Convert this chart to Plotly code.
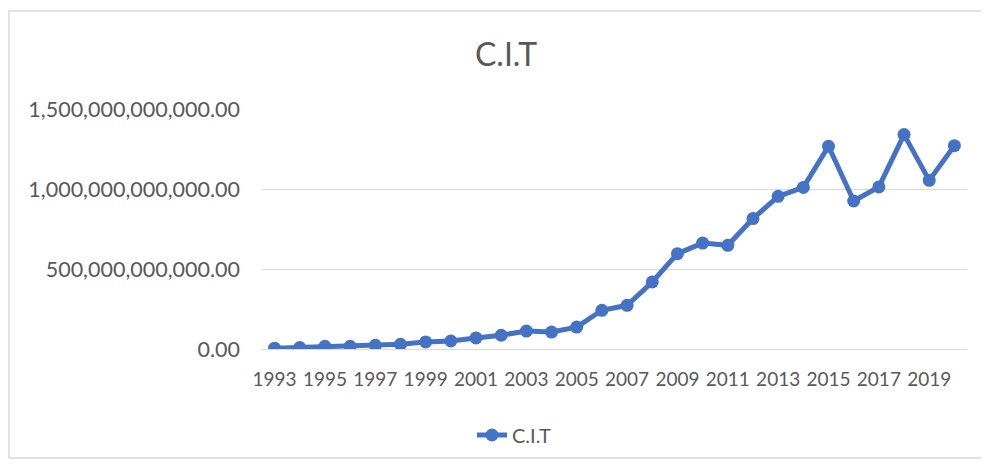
import plotly.graph_objects as go

years = [str(y) for y in range(1993, 2021)]
cit_values = [
    5e9, 9e9, 17e9, 17e9, 23e9, 29e9, 44e9, 50e9, 69e9, 86e9,
    112e9, 106e9, 137e9, 242e9, 273e9, 419e9, 596e9, 662e9, 648e9, 815e9,
    954e9, 1010e9, 1267e9, 925e9, 1013e9, 1340e9, 1054e9, 1271e9,
]
tick_years = years[::2]
y_ticks = [0, 5e11, 1e12, 1.5e12]

BLUE = "#4472C4"
GRAY = "#595959"
FONT = "Lato"

OFF = 8  # default page body margin
W, H = 989 - 2 * OFF, 467 - 2 * OFF
# plot area in page pixels
PX0, PX1, PY0, PY1 = 262, 967, 109, 349
L, R, T, B = PX0 - OFF, W - (PX1 - OFF), PY0 - OFF, H - (PY1 - OFF)
pw, ph = W - L - R, H - T - B

def px_x(p):
    return (p - OFF - L) / pw

def px_y(p):
    return (H - B - (p - OFF)) / ph

border = dict(color="#D9D9D9", width=1.5)
bx0, bx1, by0, by1 = px_x(9), px_x(OFF + W), px_y(OFF + H - 1), px_y(11)

fig = go.Figure()
fig.add_trace(go.Scatter(
    x=years, y=cit_values, mode="lines+markers", name="C.I.T",
    line=dict(color=BLUE, width=5),
    marker=dict(color=BLUE, size=13),
))

fig.update_layout(
    width=W, height=H,
    margin=dict(l=L, r=R, t=T, b=B, autoexpand=False),
    paper_bgcolor="white", plot_bgcolor="white",
    font=dict(family=FONT, color=GRAY),
    title=dict(text="C.I.T", x=(506 - OFF) / W, xanchor="center",
               y=1 - (54.5 - OFF) / H, yanchor="middle",
               font=dict(size=32, color=GRAY, family=FONT)),
    showlegend=True,
    legend=dict(orientation="h", x=px_x(472), xanchor="left", y=px_y(435),
                yanchor="middle", font=dict(size=20, color=GRAY, family=FONT),
                bgcolor="rgba(0,0,0,0)"),
    xaxis=dict(type="category", range=[-0.5, len(years) - 0.5],
               tickvals=tick_years, ticktext=tick_years, showgrid=False,
               showline=True, linecolor="#D9D9D9", linewidth=1,
               ticks="", tickfont=dict(size=19, color=GRAY, family=FONT),
               ticklabelstandoff=13, zeroline=False, automargin=False),
    yaxis=dict(range=[0, 1.5e12], tickvals=y_ticks, tickformat=",.2f",
               showgrid=True, gridcolor="#D9D9D9", gridwidth=1,
               zeroline=False, showline=False, ticks="",
               tickfont=dict(size=21.5, color=GRAY, family=FONT),
               ticklabelstandoff=21, automargin=False),
    shapes=[
        dict(type="line", xref="paper", yref="paper", x0=bx0, x1=bx0, y0=by0, y1=by1, line=border, layer="below"),
        dict(type="line", xref="paper", yref="paper", x0=bx0, x1=bx1, y0=by1, y1=by1, line=border, layer="below"),
        dict(type="line", xref="paper", yref="paper", x0=bx0, x1=bx1, y0=by0, y1=by0, line=border, layer="below"),
    ],
)

fig.write_html("out.html")
